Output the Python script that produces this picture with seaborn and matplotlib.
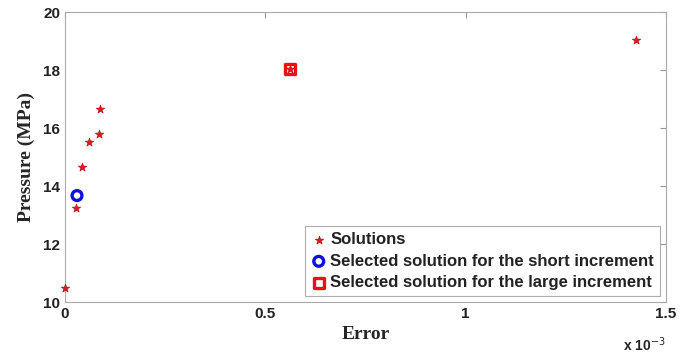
import matplotlib
matplotlib.use("Agg")
import matplotlib.pyplot as plt
import seaborn as sns
import pandas as pd

# Data (error in units of 1e-3)
sol_error = [0.0, 0.027, 0.042, 0.060, 0.085, 0.087, 0.561, 1.426]
sol_pressure = [10.48, 13.25, 14.66, 15.52, 15.80, 16.67, 18.03, 19.02]
short_error = [0.030]
short_pressure = [13.67]
large_error = [0.561]
large_pressure = [18.03]
xticks = [0, 0.5, 1, 1.5]
xtick_labels = ["0", "0.5", "1", "1.5"]
yticks = [10, 12, 14, 16, 18, 20]

sns.set_style("white")
plt.rcParams['font.family'] = ['Liberation Sans', 'DejaVu Sans']

fig = plt.figure(figsize=(6.81, 3.54), dpi=100)
ax = fig.add_axes([65/681, 52/354, 601/681, 290/354])

df_sol = pd.DataFrame({"e": sol_error, "p": sol_pressure})
df_short = pd.DataFrame({"e": short_error, "p": short_pressure})
df_large = pd.DataFrame({"e": large_error, "p": large_pressure})

sns.scatterplot(data=df_sol, x="e", y="p", ax=ax, marker="*", s=40,
                color="#e8161d", edgecolor="#b01010", linewidth=0.5,
                label="Solutions", zorder=3, clip_on=False)
sns.scatterplot(data=df_short, x="e", y="p", ax=ax, marker="o", s=50,
                facecolor="none", edgecolor="#1010e0", linewidth=2.4,
                label="Selected solution for the short increment", zorder=4)
sns.scatterplot(data=df_large, x="e", y="p", ax=ax, marker="s", s=50,
                facecolor="none", edgecolor="#ee1010", linewidth=2.4,
                label="Selected solution for the large increment", zorder=4)

ax.set_xlim(0, 1.5)
ax.set_ylim(10, 20)
ax.set_xticks(xticks)
ax.set_xticklabels(xtick_labels)
ax.set_yticks(yticks)
ax.tick_params(direction="in", length=4, top=True, right=True,
               labelsize=11, colors="#222222", color="#999999")
for lab in ax.get_xticklabels() + ax.get_yticklabels():
    lab.set_fontweight("bold")
for sp in ax.spines.values():
    sp.set_color("#aaaaaa")
    sp.set_linewidth(0.8)

ax.set_xlabel("Error", fontfamily="Liberation Serif", fontweight="bold",
              fontsize=14, labelpad=4)
ax.set_ylabel("Pressure (MPa)", fontfamily="Liberation Serif", fontweight="bold",
              fontsize=14, labelpad=6)

ax.text(1.0, -0.115, "x 10$^{-3}$", transform=ax.transAxes, ha="right",
        va="top", fontsize=10, fontweight="bold", color="#222222")

leg = ax.legend(loc="lower right", frameon=True, fontsize=12, handletextpad=0.2,
                borderpad=0.35, labelspacing=0.4, handlelength=1.0,
                borderaxespad=0, bbox_to_anchor=(0.99, 0.02), fancybox=False)
leg.get_frame().set_edgecolor("#999999")
leg.get_frame().set_linewidth(0.8)
for t in leg.get_texts():
    t.set_fontweight("bold")
    t.set_color("#222222")

fig.savefig("out.png", dpi=100)
